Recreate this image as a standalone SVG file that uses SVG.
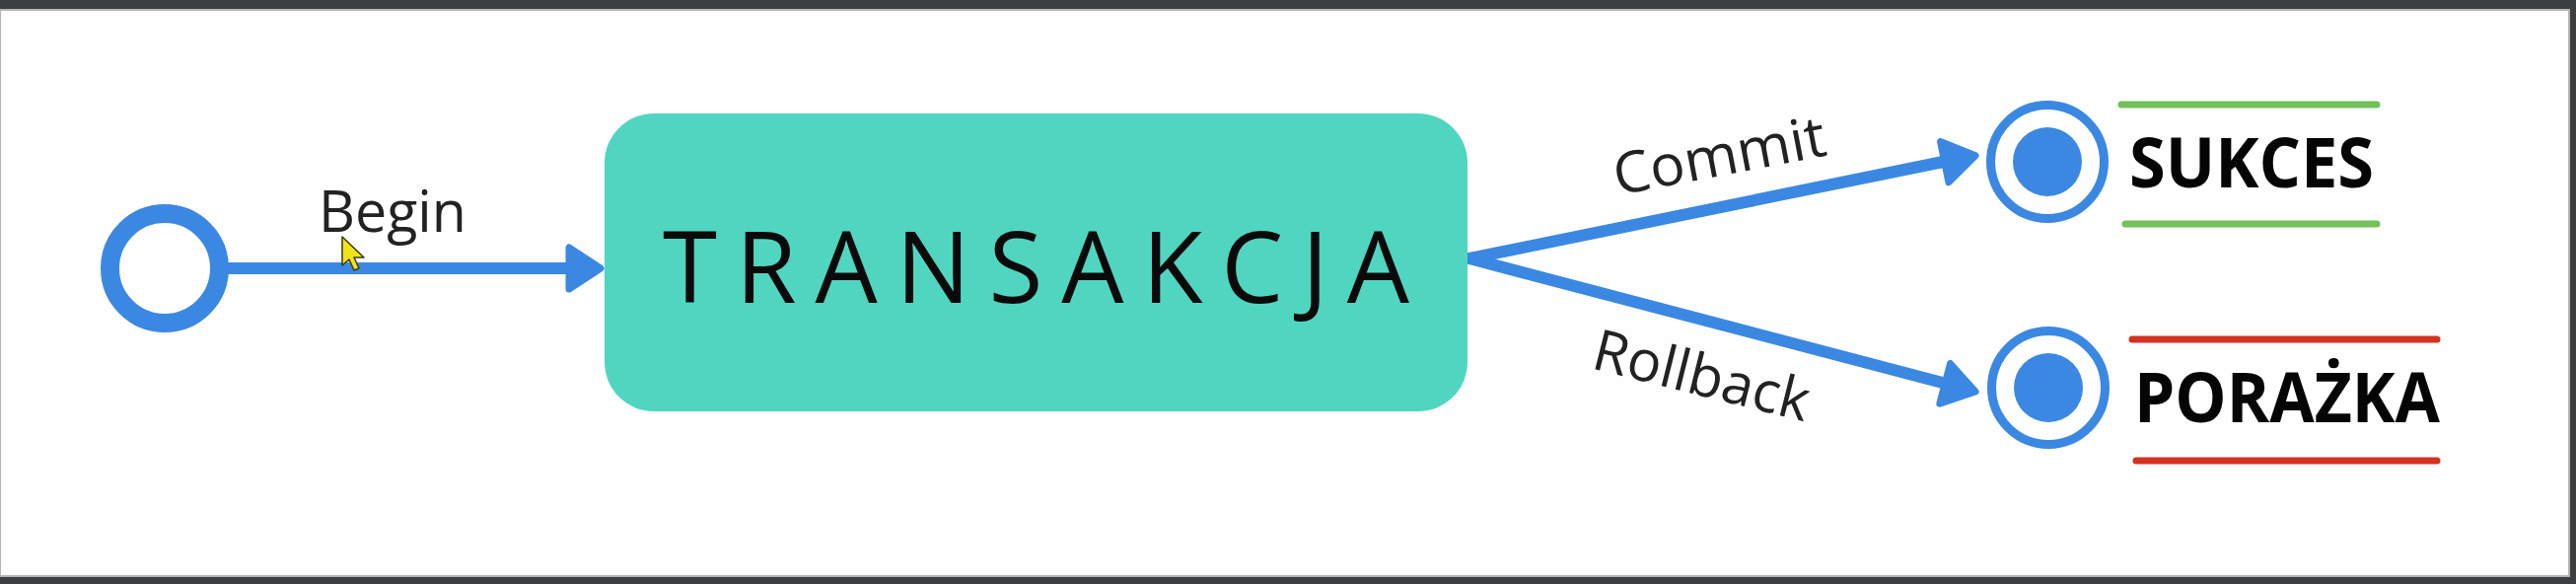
<svg xmlns="http://www.w3.org/2000/svg" width="2612" height="592" viewBox="0 0 2612 592">
<style>
.lbl{font-family:"Open Sans","Liberation Sans",sans-serif;font-weight:400;font-size:58px;fill:#222}
.title{font-family:"Open Sans","Liberation Sans",sans-serif;font-weight:400;font-size:100px;fill:#0a0a0a}
.end{font-family:"Open Sans","Liberation Sans",sans-serif;font-weight:700;font-size:69px;fill:#050505}
.conn{fill:none;stroke:#3b88e3;stroke-width:12;stroke-linecap:round}
.ring{fill:none;stroke:#3b88e3}
.dot{fill:#3b88e3}
.head{fill:#3b88e3;stroke:#3b88e3;stroke-width:7;stroke-linejoin:round}
</style>
<defs>
<path id="ah" d="M-4,0 L-36,-21 L-36,21 Z"/>
</defs>
<rect x="0" y="0" width="2612" height="592" fill="#fefefe"/>
<g id="frame">
<rect x="0" y="0" width="2612" height="9" fill="#3d3e40"/>
<rect x="0" y="9" width="2612" height="2" fill="#b4b4b4"/>
<rect x="0" y="585" width="2612" height="7" fill="#3d3e40"/>
<rect x="0" y="583" width="2612" height="2" fill="#b4b4b4"/>
<rect x="2606" y="0" width="6" height="592" fill="#3d3e40"/>
<rect x="2604" y="9" width="2" height="576" fill="#b4b4b4"/>
<rect x="0" y="9" width="1" height="576" fill="#b4b4b4"/>
</g>
<g id="connectors">
<line class="conn" x1="232" y1="272" x2="590" y2="272"/>
<use href="#ah" class="head" transform="translate(613,272)"/>
<line class="conn" x1="1490" y1="262" x2="1985" y2="161"/>
<use href="#ah" class="head" transform="translate(2007,157) rotate(-11.5)"/>
<line class="conn" x1="1490" y1="262" x2="1985" y2="392"/>
<use href="#ah" class="head" transform="translate(2007,398) rotate(14.7)"/>
<text class="lbl" x="323" y="235" textLength="150" lengthAdjust="spacingAndGlyphs">Begin</text>
<text class="lbl" transform="translate(1640,198) rotate(-10.8)" x="0" y="0" textLength="218" lengthAdjust="spacingAndGlyphs">Commit</text>
<text class="lbl" transform="translate(1612,373) rotate(14)" x="0" y="0" textLength="224" lengthAdjust="spacingAndGlyphs">Rollback</text>
</g>
<g id="start">
<circle class="ring" cx="167" cy="272" r="55.5" stroke-width="19"/>
</g>
<g id="transakcja">
<rect x="613" y="115" width="875" height="302" rx="50" ry="50" fill="#50d6c0"/>
<text class="title" x="672" y="307" textLength="757" lengthAdjust="spacing">TRANSAKCJA</text>
</g>
<g id="sukces">
<circle class="ring" cx="2076" cy="164" r="57.5" stroke-width="9"/>
<circle class="dot" cx="2076" cy="164" r="35"/>
<line x1="2151" y1="106" x2="2410" y2="106" stroke="#72c15a" stroke-width="7" stroke-linecap="round"/>
<line x1="2155" y1="227" x2="2410" y2="227" stroke="#72c15a" stroke-width="7" stroke-linecap="round"/>
<text class="end" x="2159" y="190" textLength="248" lengthAdjust="spacingAndGlyphs">SUKCES</text>
</g>
<g id="porazka">
<circle class="ring" cx="2077" cy="393" r="57.5" stroke-width="9"/>
<circle class="dot" cx="2077" cy="393" r="35"/>
<line x1="2162" y1="344" x2="2471" y2="344" stroke="#d3321f" stroke-width="7" stroke-linecap="round"/>
<line x1="2166" y1="467" x2="2471" y2="467" stroke="#d3321f" stroke-width="7" stroke-linecap="round"/>
<text class="end" x="2164" y="428" textLength="310" lengthAdjust="spacingAndGlyphs">PORAŻKA</text>
</g>
<g id="cursor">
<path d="M347,240 L347,269 L354,263 L359,274 L364,272 L359,261 L369,261 Z" fill="#f2e21a" stroke="#3a3a1a" stroke-width="1.5" stroke-linejoin="round"/>
</g>
</svg>
